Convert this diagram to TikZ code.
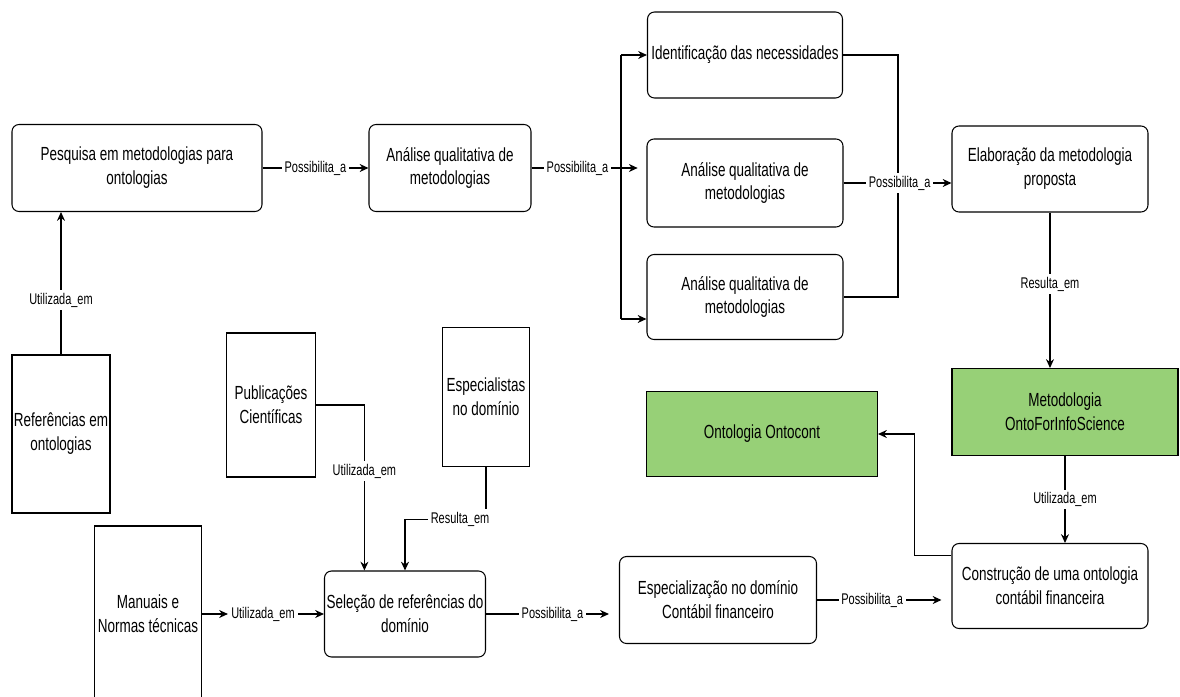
\documentclass[tikz,border=0pt]{standalone}
\usepackage{fontspec}
\setmainfont[FakeStretch=0.71]{Liberation Sans}
\usetikzlibrary{arrows.meta,positioning}
\definecolor{boxgreen}{HTML}{97D077}

\begin{document}
\begin{tikzpicture}[
  x=0.025cm, y=-0.025cm,
  line width=0.75pt,
  box/.style={draw, rounded corners=5pt, align=center, inner sep=1pt, font=\fontsize{13.5}{17}\selectfont},
  src/.style={draw, align=center, inner sep=1pt, font=\fontsize{13.5}{17}\selectfont},
  res/.style={src, fill=boxgreen},
  wh/.style 2 args={minimum width=#1*0.025cm, minimum height=#2*0.025cm},
  lbl/.style={fill=white, inner sep=2pt, font=\fontsize{11}{12}\selectfont},
  arr/.style={-{Stealth[length=2.2mm, width=2mm]}}
]
\useasboundingbox (0,0) rectangle (1180,697);

% processos (caixas arredondadas)
\node[box, wh={250}{87}] (pesq) at (137,168) {Pesquisa em metodologias para\\ontologias};
\node[box, wh={162}{87}] (anq1) at (450,168) {Análise qualitativa de\\metodologias};
\node[box, wh={195}{86}] (ident) at (745,55) {Identificação das necessidades};
\node[box, wh={196}{88}] (anq2) at (745,183) {Análise qualitativa de\\metodologias};
\node[box, wh={196}{85}] (anq3) at (745,297) {Análise qualitativa de\\metodologias};
\node[box, wh={196}{86}] (elab) at (1050,169) {Elaboração da metodologia\\proposta};
\node[box, wh={161}{86}] (selec) at (405,614) {Seleção de referências do\\domínio};
\node[box, wh={197}{87}] (espec) at (718,600) {Especialização no domínio\\Contábil financeiro};
\node[box, wh={196}{85}] (constr) at (1050,586) {Construção de uma ontologia\\contábil financeira};

% fontes
\node[src, wh={98}{158}] (refs) at (61,434) {Referências em\\ontologias};
\node[src, wh={89}{144}] (publ) at (271,405) {Publicações\\Científicas};
\node[src, wh={87}{139}] (espl) at (486,397) {Especialistas\\no domínio};
\node[src, wh={107}{176}] (manu) at (148,614) {Manuais e\\Normas técnicas};

% resultados
\node[res, wh={226}{87}] (metod) at (1065,412) {Metodologia\\OntoForInfoScience};
\node[res, wh={231}{85}] (ontoc) at (762,434) {Ontologia Ontocont};

% ligações
\draw[arr] (refs) -- (refs |- pesq.south) node[lbl, pos=0.38] {Utilizada\_em};
\draw[arr] (pesq) -- (anq1) node[lbl, midway] {Possibilita\_a};
\draw[arr, shorten >=2.2mm] (anq1) -- (anq1 -| anq2.west) node[lbl, pos=0.4] {Possibilita\_a};

\coordinate (bus1) at (621,55);
\coordinate (bus2) at (621,319);
\draw (bus1) -- (bus2);
\draw[arr] (bus1) -- (ident);
\draw[arr] (bus2) -- (bus2 -| anq3.west);

\coordinate (mrg) at (898,183);
\draw (ident.east) -| (mrg) |- (anq3.east);
\draw[arr] (anq2) -- (anq2 -| elab.west) node[lbl, pos=0.52] {Possibilita\_a};

\draw[arr] (elab) -- (elab |- metod.north) node[lbl, pos=0.46] {Resulta\_em};
\draw[arr] (metod) -- (metod |- constr.north) node[lbl, midway] {Utilizada\_em};
\draw[arr] (constr.163) -- ++(-37,0) |- (ontoc);

\draw[arr] (publ) -| (selec.133) node[lbl, pos=0.7] {Utilizada\_em};
\draw[arr] (espl.south) -- ++(0,52) -| (selec) node[lbl, pos=0.16] {Resulta\_em};
\node[lbl] (util) at (263,614) {Utilizada\_em};
\draw[arr] (manu) -- (util);
\draw[arr] (util) -- (selec);
\draw[arr, shorten >=2.5mm] (selec) -- (selec -| espec.west) node[lbl, pos=0.5] {Possibilita\_a};
\draw[arr, shorten >=2.5mm] (espec) -- (espec -| constr.west) node[lbl, pos=0.41] {Possibilita\_a};
\end{tikzpicture}
\end{document}
